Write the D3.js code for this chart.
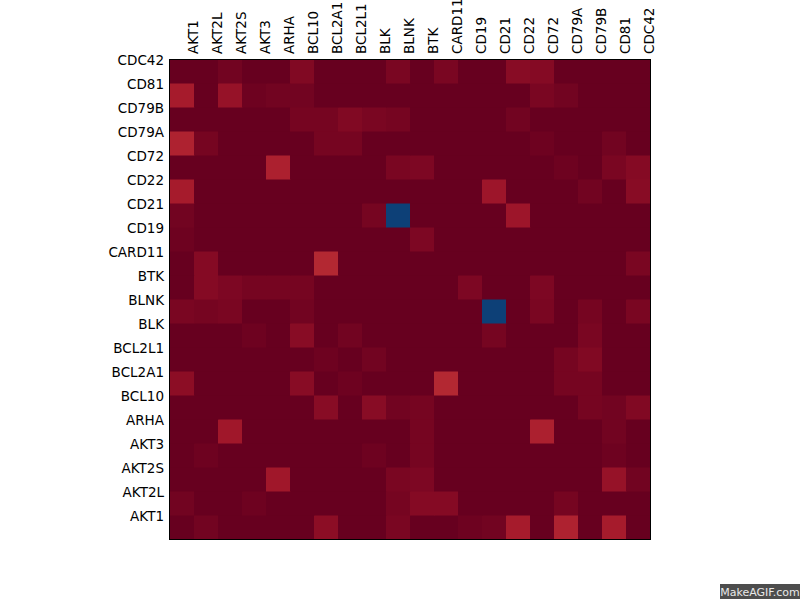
<!DOCTYPE html>
<html>
<head>
<meta charset="utf-8">
<script src="https://cdnjs.cloudflare.com/ajax/libs/d3/7.8.5/d3.min.js"></script>
<style>
  body { margin: 0; background: #fff; }
  text { font-family: "DejaVu Sans", sans-serif; }
</style>
</head>
<body>
<div class="chart"></div>
<script>
var genes = ["AKT1","AKT2L","AKT2S","AKT3","ARHA","BCL10","BCL2A1","BCL2L1","BLK","BLNK",
             "BTK","CARD11","CD19","CD21","CD22","CD72","CD79A","CD79B","CD81","CDC42"];

// one row per gene, same order as genes
var values = [
  [0,.015,0,0,0,0,.05,0,0,.025,0,0,.01,.015,.09,0,.105,0,.09,0],
  [.015,0,0,.01,0,0,0,0,0,.02,.04,.04,0,0,0,0,.02,0,0,0],
  [0,0,0,0,.08,0,0,0,0,.025,.03,0,0,0,0,0,0,0,.065,.015],
  [0,.01,0,0,0,0,0,0,.01,0,.02,0,0,0,0,0,0,0,.01,0],
  [0,0,.08,0,0,0,0,0,0,0,.02,0,0,0,0,.1,0,0,.015,0],
  [0,0,0,0,0,0,.045,0,.045,.015,.02,0,0,0,0,0,0,.02,.015,.035],
  [.05,0,0,0,0,.045,0,.01,0,0,0,.115,0,0,0,0,.02,.02,0,0],
  [0,0,0,0,0,0,.01,0,.015,0,0,0,0,0,0,0,.02,.035,0,0],
  [0,0,0,.01,0,.045,0,.015,0,0,0,0,0,.02,0,0,0,.025,0,0],
  [.025,.02,.025,0,0,.015,0,0,0,0,0,0,0,.97,0,.025,0,.02,0,.025],
  [0,.04,.03,.02,.02,.02,0,0,0,0,0,0,.03,0,0,.03,0,0,0,0],
  [0,.04,0,0,0,0,.115,0,0,0,0,0,0,0,0,0,0,0,0,.025],
  [.01,0,0,0,0,0,0,0,0,0,.03,0,0,0,0,0,0,0,0,0],
  [.015,0,0,0,0,0,0,0,.02,.97,0,0,0,0,.075,0,0,0,0,0],
  [.09,0,0,0,0,0,0,0,0,0,0,0,0,.075,0,0,0,.015,0,.045],
  [0,0,0,0,.1,0,0,0,0,.025,.03,0,0,0,0,0,.01,0,.025,.04],
  [.105,.02,0,0,0,0,.02,.02,0,0,0,0,0,0,0,.01,0,0,.015,0],
  [0,0,0,0,0,.02,.02,.035,.025,.02,0,0,0,0,.015,0,0,0,0,0],
  [.09,0,.065,.01,.015,.015,0,0,0,0,0,0,0,0,0,.025,.015,0,0,0],
  [0,0,.015,0,0,.035,0,0,0,.025,0,.025,0,0,.045,.04,0,0,0,0]
];

var width = 800,
    height = 600;

var mapLeft = 170, mapTop = 59, mapSize = 480;

var svg = d3.select(".chart").append("svg")
    .attr("width", width)
    .attr("height", height);

var x = d3.scaleBand()
    .domain(genes)
    .range([mapLeft, mapLeft + mapSize]);

var y = d3.scaleBand()
    .domain(genes.slice().reverse())
    .range([mapTop, mapTop + mapSize]);

var color = d3.scaleSequential(d3.interpolateRdBu)
    .domain([0, 1]);

var cells = [];
values.forEach(function(row, i){
  row.forEach(function(v, j){
    cells.push({row: genes[i], col: genes[j], value: v});
  });
});

svg.append("g")
    .selectAll("rect")
    .data(cells)
    .enter()
    .append("rect")
    .attr("x", function(d){ return x(d.col); })
    .attr("y", function(d){ return y(d.row); })
    .attr("width", x.bandwidth() + 0.5)
    .attr("height", y.bandwidth() + 0.5)
    .attr("fill", function(d){ return color(d.value); });

svg.append("rect")
    .attr("x", mapLeft - 0.5)
    .attr("y", mapTop + 0.5)
    .attr("width", mapSize + 1)
    .attr("height", mapSize)
    .attr("fill", "none")
    .attr("stroke", "#000")
    .attr("stroke-width", 1);

// row labels sit on the top edge of each row
svg.append("g")
    .selectAll("text")
    .data(genes)
    .enter()
    .append("text")
    .attr("x", mapLeft - 6)
    .attr("y", function(d){ return y(d) + 1; })
    .attr("text-anchor", "end")
    .attr("dominant-baseline", "central")
    .style("font-size", "13.5px")
    .attr("fill", "#000")
    .text(function(d){ return d; });

// column labels sit on the right edge of each column
svg.append("g")
    .selectAll("text")
    .data(genes)
    .enter()
    .append("text")
    .attr("transform", function(d){
      return "translate(" + (x(d) + x.bandwidth() - 1) + "," + (mapTop - 5) + ") rotate(-90)";
    })
    .attr("text-anchor", "start")
    .attr("dominant-baseline", "central")
    .style("font-size", "13.5px")
    .attr("fill", "#000")
    .text(function(d){ return d; });

// watermark
svg.append("rect")
    .attr("x", 720)
    .attr("y", 584)
    .attr("width", 80)
    .attr("height", 15)
    .attr("fill", "#4d4d4d");

svg.append("text")
    .attr("x", 760)
    .attr("y", 592)
    .attr("text-anchor", "middle")
    .attr("dominant-baseline", "central")
    .style("font-size", "11px")
    .attr("fill", "#e8e8e8")
    .text("MakeAGIF.com");
</script>
</body>
</html>
